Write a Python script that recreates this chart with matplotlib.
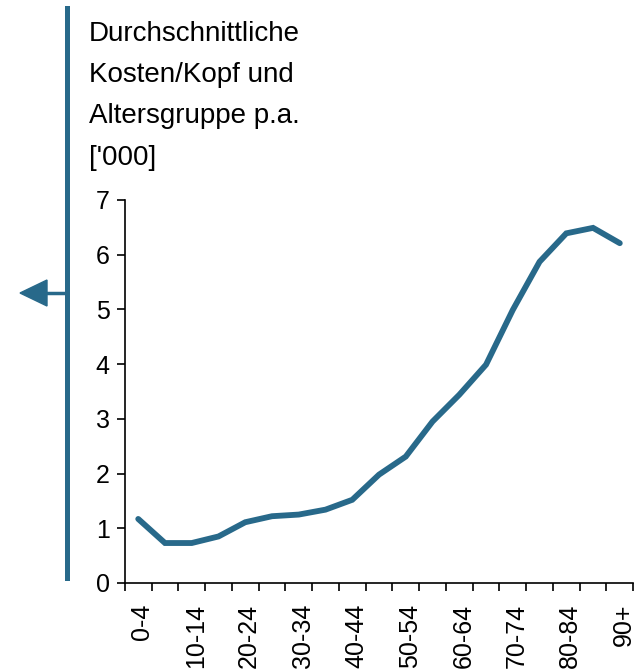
import matplotlib
matplotlib.use('Agg')
import matplotlib.pyplot as plt
import matplotlib.transforms as mtransforms
import numpy as np

altersgruppen = ["0-4", "5-9", "10-14", "15-19", "20-24", "25-29", "30-34", "35-39",
                 "40-44", "45-49", "50-54", "55-59", "60-64", "65-69", "70-74",
                 "75-79", "80-84", "85-89", "90+"]
kosten = [1.17, 0.73, 0.73, 0.85, 1.11, 1.22, 1.25, 1.34, 1.52, 1.98, 2.31,
          2.95, 3.44, 3.99, 4.99, 5.87, 6.39, 6.49, 6.21]
titel = "Durchschnittliche\nKosten/Kopf und\nAltersgruppe p.a.\n['000]"

FARBE = '#28698a'
plt.rcParams['font.family'] = ['Liberation Sans', 'DejaVu Sans']

fig = plt.figure(figsize=(6.37, 6.69), dpi=100)
ax = fig.add_axes([0.196, 0.1286, 0.798, 0.5725])

x = np.arange(len(altersgruppen))
ax.plot(x, kosten, color=FARBE, linewidth=4.2, solid_capstyle='round', solid_joinstyle='miter')

ax.set_xlim(-0.5, len(altersgruppen) - 0.5)
ax.set_ylim(0, 7)
ax.set_yticks(range(0, 8))
ax.set_xticks(x[::2])
ax.set_xticklabels(altersgruppen[::2], rotation=90, fontsize=18)
ax.set_xticks(np.arange(-0.5, len(altersgruppen)), minor=True)
ax.tick_params(axis='x', which='major', length=0, pad=15)
ax.tick_params(axis='x', which='minor', length=6, width=1.2)
ax.tick_params(axis='y', length=6, width=1.2, labelsize=18, pad=5)
for s in ['top', 'right']:
    ax.spines[s].set_visible(False)
for s in ['left', 'bottom']:
    ax.spines[s].set_linewidth(1.2)

# Beschriftungen leicht nach rechts versetzt wie im Original
versatz = mtransforms.ScaledTranslation(4 / 100, 0, fig.dpi_scale_trans)
for lbl in ax.get_xticklabels():
    lbl.set_transform(lbl.get_transform() + versatz)

fig.text(89 / 637, 1 - 21 / 669, titel, fontsize=20, va='top', ha='left', linespacing=1.76)

# blauer Balken mit Pfeil links
fig.add_artist(plt.Line2D([67 / 637, 67 / 637], [1 - 8 / 669, 1 - 578 / 669],
                          color=FARBE, linewidth=3.6, transform=fig.transFigure))
fig.add_artist(plt.Line2D([40 / 637, 67 / 637], [1 - 293 / 669, 1 - 293 / 669],
                          color=FARBE, linewidth=2.5, transform=fig.transFigure))
fig.add_artist(plt.Polygon([[20 / 637, 1 - 293 / 669], [47 / 637, 1 - 280 / 669],
                            [47 / 637, 1 - 306 / 669]], closed=True, color=FARBE,
                           transform=fig.transFigure))

fig.savefig('out.png', dpi=100)
